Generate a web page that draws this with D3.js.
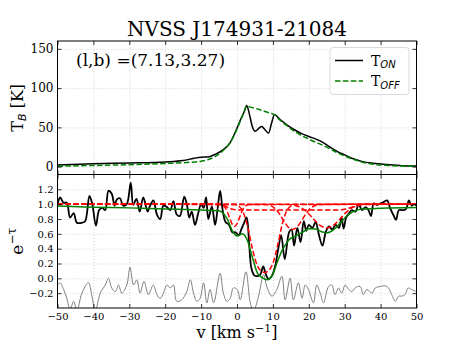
<!DOCTYPE html>
<html>
<head>
<meta charset="UTF-8">
<script src="https://d3js.org/d3.v7.min.js"></script>
<style>
  body { margin: 0; background: #fff; }
  text { font-family: "DejaVu Serif", serif; fill: #000; }
  .grid line { stroke: #c8c8c8; stroke-dasharray: 1,2; stroke-width: 0.8; }
  .grid path { display: none; }
  .ax path { display: none; }
  .ax line { stroke: #000; stroke-width: 0.8; }
</style>
</head>
<body>
<svg id="chart" width="463" height="347"></svg>
<script>
// ---- data ----
const vTicks = [-50, -40, -30, -20, -10, 0, 10, 20, 30, 40, 50];
const tbTicks = [0, 50, 100, 150];
const tauTicks = [-0.2, 0.0, 0.2, 0.4, 0.6, 0.8, 1.0, 1.2];

// emission spectra [v, T_B]
const tOn = [[-50,2.1],[-40,3.8],[-30,4.7],[-20,6.0],[-15,7.7],[-12,10.6],[-10,12],[-8,12.4],[-6,15.8],[-4,21],[-2,30],[0,49],
  [1,60],[2,70],[2.7,78],[3.5,66],[4.2,52],[5.1,45],[6,48.5],[6.9,51],[7.8,47],[8.8,42.7],[9.6,55],[10.45,66],[12,60],[14,53],
  [16,47],[18,42],[20,38.3],[22,35],[24,30.7],[26,24.7],[28,19.2],[30,15],[32,10.7],[35,6.4],[38,4.3],[42,2.6],[46,1.3],[50,0.9]];
const tOff = [[-50,0.5],[-40,1.5],[-30,2.5],[-20,4],[-15,5],[-10,7],[-8,9],[-6,13],[-4,20],[-2,30],[0,48],[1,59],[2,70],[2.7,77],
  [4,75.5],[6,73],[8,70],[10,67],[10.5,66],[12,59],[14,52],[16,45],[18,39.5],[20,35],[22,31],[24,27],[26,22.5],[28,17.5],
  [30,13.5],[32,10],[35,5.5],[38,3],[42,1.5],[46,0.7],[50,0.3]];

// absorption spectrum e^-tau [v, value]
const absData = [[-50,1.0],[-49.25,1.09],[-48.3,1.02],[-47.4,1.02],[-46.5,0.82],[-45.5,0.88],[-44.6,0.75],[-43.2,0.75],[-42.3,0.77],
  [-41.1,1.11],[-40.3,1.0],[-39.3,0.71],[-38.4,0.92],[-37.5,0.95],[-36.7,0.92],[-35.8,1.18],[-34.9,1.14],[-34.1,0.98],[-33.5,1.06],
  [-32.6,1.08],[-31.7,0.98],[-30.7,1.0],[-29.6,1.29],[-28.9,0.99],[-28,1.07],[-27.1,0.90],[-26.1,1.09],[-24.9,0.90],[-24.3,0.97],
  [-23.3,1.05],[-22.3,0.86],[-21.4,0.80],[-20.5,0.98],[-19.5,0.96],[-18.6,0.92],[-17.7,1.04],[-16.8,0.86],[-15.9,0.84],[-14.7,1.10],
  [-13.9,0.98],[-13.3,0.82],[-12.6,0.90],[-11.7,0.72],[-10.8,0.88],[-10,1.0],[-9.3,0.95],[-8.6,1.09],[-8,0.80],[-7,0.97],[-6.1,0.72],
  [-5.4,0.94],[-4.7,1.18],[-4,0.92],[-3.2,0.76],[-2.2,0.72],[-1.3,0.62],[-0.4,0.62],[0.5,0.58],[1.2,0.66],[2.0,0.75],[2.7,0.82],
  [3.4,0.45],[4.0,0.14],[4.8,0.04],[5.7,0.03],[6.5,0.05],[7.3,0.16],[8.0,0.06],[8.8,-0.01],[9.7,0.03],[10.6,0.16],[11.5,0.40],
  [12.3,0.58],[13.3,0.26],[14.5,0.62],[15.2,0.66],[15.9,0.44],[16.8,0.68],[17.7,0.49],[18.6,0.77],[19.3,0.64],[20.0,0.72],[21,0.68],
  [21.9,0.76],[22.8,0.59],[23.8,0.44],[24.7,0.62],[25.6,0.70],[26.5,0.66],[27.5,0.72],[28.4,0.68],[29.1,0.82],[29.7,0.67],[30.4,0.82],
  [31.1,0.87],[32,0.92],[33,0.90],[33.9,1.0],[34.8,0.92],[35.8,0.96],[36.6,0.92],[37.3,0.84],[38.1,1.01],[39,0.99],[40,1.01],
  [40.9,1.03],[41.8,1.05],[42.7,0.94],[43.7,0.84],[44.3,0.79],[45.1,0.92],[46,0.92],[47,0.93],[47.9,1.05],[48.6,0.98],[49.3,1.0],[50,0.98]];

// total fit
const fitData = [[-50,0.975],[-40,0.96],[-30,0.95],[-20,0.935],[-10,0.92],[-5.2,0.91],[-4.1,0.89],[-2.7,0.80],[-1.3,0.64],[0.1,0.57],
  [1.5,0.60],[2.9,0.51],[4.3,0.28],[5.7,0.07],[7.1,0.005],[8.5,-0.02],[9.9,0.05],[11.3,0.23],[12.7,0.39],[13.6,0.46],[14.5,0.52],
  [16.3,0.57],[18.2,0.62],[20,0.67],[21.9,0.665],[23.8,0.625],[25.2,0.615],[27.5,0.68],[29,0.76],[30.4,0.83],[32,0.89],[33.5,0.92],
  [35,0.935],[40,0.945],[50,0.955]];

// individual components
const compA = [[-50,1],[-5,1],[-3.5,0.98],[-2,0.94],[-0.5,0.925],[2,0.92],[10,0.92],[20,0.92],[28,0.92],[30,0.93],[32,0.96],[34,0.99],[35.5,1],[50,1]];
const compB = [[-50,1],[-4.7,0.997],[-3.95,0.984],[-3.3,0.953],[-2.65,0.89],[-2.0,0.805],[-1.35,0.73],[-0.7,0.70],[-0.05,0.73],
  [0.6,0.805],[1.25,0.89],[1.9,0.953],[2.55,0.984],[3.3,0.997],[50,1]];
const compC = [[-50,1],[-0.7,0.995],[0.5,0.972],[1.7,0.895],[2.9,0.71],[4.1,0.44],[5.3,0.216],[6.5,0.108],[7.7,0.08],[8.9,0.108],
  [10.1,0.216],[11.3,0.44],[12.5,0.71],[13.7,0.895],[14.9,0.972],[16.1,0.995],[50,1]];
const compD = [[-50,1],[8,0.995],[9.25,0.982],[10.5,0.945],[11.75,0.874],[13,0.777],[14.25,0.693],[15.5,0.66],[16.75,0.693],
  [18,0.777],[19.25,0.874],[20.5,0.945],[21.75,0.982],[23,0.995],[50,1]];
const compE = [[-50,1],[14.5,0.996],[16.25,0.983],[18,0.949],[19.75,0.882],[21.5,0.791],[23.25,0.711],[25,0.68],[26.75,0.711],
  [28.5,0.791],[30.25,0.882],[32,0.949],[33.75,0.983],[35.5,0.996],[50,1]];

// residuals (shown offset)
const resid = [[-50,-0.09],[-49.3,-0.06],[-48.3,-0.15],[-47.4,-0.27],[-46.5,-0.42],[-45.5,-0.31],[-44.6,-0.44],[-43.2,-0.2],
  [-41.4,-0.06],[-40.4,-0.24],[-39.5,-0.44],[-38.1,-0.2],[-36.7,-0.09],[-35.8,0.0],[-34.9,-0.13],[-33.9,-0.18],[-33,-0.09],
  [-32.1,-0.2],[-30.7,-0.09],[-29.8,0.15],[-28.8,-0.09],[-27.9,-0.02],[-27,-0.2],[-25.9,-0.04],[-24.7,-0.22],[-23.3,-0.09],
  [-22.3,-0.22],[-21.4,-0.27],[-20.5,-0.2],[-19.5,-0.09],[-18.6,-0.13],[-17.7,-0.09],[-16.8,-0.31],[-15.4,-0.29],[-14,-0.18],
  [-13,-0.02],[-12.1,-0.2],[-11.2,-0.31],[-10.3,-0.27],[-9.3,-0.06],[-8.4,-0.33],[-7.5,-0.15],[-6.5,-0.33],[-4.7,0.07],[-3.8,-0.2],
  [-2.8,-0.31],[-1.9,-0.27],[-1,-0.13],[0.1,-0.15],[0.9,-0.29],[2.5,0.09],[3.7,-0.33],[4.6,-0.44],[6,-0.24],[7.4,0.05],[8.3,-0.11],
  [9.7,-0.24],[11.1,-0.15],[12.5,0.03],[13.4,-0.29],[14.8,0.0],[15.7,-0.29],[17.1,-0.06],[18.1,-0.27],[19,-0.09],[19.9,-0.15],
  [21.3,-0.33],[22.2,-0.09],[23.2,-0.2],[24.1,-0.33],[25.5,-0.11],[26.4,-0.09],[27.3,-0.22],[28.3,-0.13],[29.2,-0.2],[30.1,-0.09],
  [31.1,-0.15],[32,-0.18],[32.9,-0.13],[34.3,-0.11],[35.2,-0.22],[36.2,-0.15],[37.6,-0.2],[38.5,-0.13],[39.9,-0.11],[41.3,-0.1],
  [42.2,-0.13],[43.1,-0.22],[44.1,-0.31],[45,-0.24],[45.9,-0.24],[46.8,-0.22],[47.7,-0.13],[48.6,-0.15],[50,-0.18]];

// ---- layout ----
const L = 57.5, R = 416.5, T1 = 41, B1 = 174.5, B2 = 308;
const svg = d3.select("#chart");

const x = d3.scaleLinear().domain([-50, 50]).range([L, R]);
const yTop = d3.scaleLinear().domain([-10, 160]).range([B1, T1]);
const yBot = d3.scaleLinear().domain([-0.4, 1.4]).range([B2, B1]);

svg.append("text").attr("x", 237).attr("y", 36).attr("text-anchor", "middle")
  .style("font-size", "20px").text("NVSS J174931-21084");

const defs = svg.append("defs");
defs.append("clipPath").attr("id", "clipTop").append("rect")
  .attr("x", L).attr("y", T1).attr("width", R - L).attr("height", B1 - T1);
defs.append("clipPath").attr("id", "clipBot").append("rect")
  .attr("x", L).attr("y", B1).attr("width", R - L).attr("height", B2 - B1);

function panel(y, top, bottom, yt, fmt, fs, clip) {
  const g = svg.append("g");
  // grid
  g.append("g").attr("class", "grid").attr("transform", `translate(0,${bottom})`)
    .call(d3.axisBottom(x).tickValues(vTicks.slice(1, -1)).tickSize(-(bottom - top)).tickFormat(""));
  g.append("g").attr("class", "grid").attr("transform", `translate(${L},0)`)
    .call(d3.axisLeft(y).tickValues(yt).tickSize(-(R - L)).tickFormat(""));
  const plot = g.append("g").attr("clip-path", `url(#${clip})`);
  // axes with inward ticks
  const ax = g.append("g");
  ax.append("g").attr("class", "ax").attr("transform", `translate(${L},0)`)
    .call(d3.axisLeft(y).tickValues(yt).tickSizeInner(-4).tickSizeOuter(0).tickPadding(4).tickFormat(fmt))
    .selectAll("text").style("font-size", fs).style("font-family", "DejaVu Serif");
  ax.append("g").attr("class", "ax").attr("transform", `translate(${R},0)`)
    .call(d3.axisRight(y).tickValues(yt).tickSizeInner(-4).tickSizeOuter(0).tickFormat(""));
  ax.append("g").attr("class", "ax").attr("transform", `translate(0,${top})`)
    .call(d3.axisTop(x).tickValues(vTicks).tickSizeInner(-4).tickSizeOuter(0).tickFormat(""));
  const bx = ax.append("g").attr("class", "ax").attr("transform", `translate(0,${bottom})`);
  g.append("rect").attr("x", L).attr("y", top).attr("width", R - L).attr("height", bottom - top)
    .attr("fill", "none").attr("stroke", "#000").attr("stroke-width", 1);
  return { plot, bx };
}

// ---- top panel ----
const pTop = panel(yTop, T1, B1, tbTicks, d3.format("d"), "12px", "clipTop");
pTop.bx.call(d3.axisBottom(x).tickValues(vTicks).tickSizeInner(-4).tickSizeOuter(0).tickFormat(""));

const lineTop = d3.line().x(d => x(d[0])).y(d => yTop(d[1])).curve(d3.curveMonotoneX);
pTop.plot.append("path").datum(tOn).attr("d", lineTop)
  .attr("fill", "none").attr("stroke", "#000").attr("stroke-width", 1.5);
pTop.plot.append("path").datum(tOff).attr("d", lineTop)
  .attr("fill", "none").attr("stroke", "#008000").attr("stroke-width", 1.5).attr("stroke-dasharray", "5.5,2.4");

svg.append("text").attr("x", 76).attr("y", 66).style("font-size", "17px").text("(l,b) =(7.13,3.27)");

// legend
const lg = svg.append("g");
lg.append("rect").attr("x", 330).attr("y", 47.5).attr("width", 79).attr("height", 47).attr("rx", 3)
  .attr("fill", "#fff").attr("fill-opacity", 0.8).attr("stroke", "#d0d0d0").attr("stroke-width", 0.8);
lg.append("line").attr("x1", 335).attr("x2", 363).attr("y1", 60.5).attr("y2", 60.5)
  .attr("stroke", "#000").attr("stroke-width", 1.5);
lg.append("line").attr("x1", 335).attr("x2", 363).attr("y1", 81).attr("y2", 81)
  .attr("stroke", "#008000").attr("stroke-width", 1.5).attr("stroke-dasharray", "5.5,2.4");
const lt1 = lg.append("text").attr("x", 371).attr("y", 65.5).style("font-size", "14px");
lt1.append("tspan").text("T");
lt1.append("tspan").attr("dy", 2.5).style("font-size", "10px").style("font-family", "DejaVu Sans")
  .style("font-style", "italic").text("ON");
const lt2 = lg.append("text").attr("x", 371).attr("y", 86).style("font-size", "14px");
lt2.append("tspan").text("T");
lt2.append("tspan").attr("dy", 2.5).style("font-size", "10px").style("font-family", "DejaVu Sans")
  .style("font-style", "italic").text("OFF");

// y label top
const yl1 = svg.append("text").attr("transform", `translate(23,${(T1 + B1) / 2}) rotate(-90)`)
  .attr("text-anchor", "middle").style("font-size", "16px");
yl1.append("tspan").text("T");
yl1.append("tspan").attr("dy", 3).style("font-size", "11px").style("font-family", "DejaVu Sans")
  .style("font-style", "italic").text("B");
yl1.append("tspan").attr("dy", -3).text(" [K]");

// ---- bottom panel ----
const pBot = panel(yBot, B1, B2, tauTicks, d3.format(".1f"), "10px", "clipBot");
pBot.bx.call(d3.axisBottom(x).tickValues(vTicks).tickSizeInner(-4).tickSizeOuter(0).tickPadding(5).tickFormat(d3.format("d")))
  .selectAll("text").style("font-size", "10px").style("font-family", "DejaVu Serif");

const lineBot = d3.line().x(d => x(d[0])).y(d => yBot(d[1])).curve(d3.curveCatmullRom.alpha(0.5));
const lineComp = d3.line().x(d => x(d[0])).y(d => yBot(d[1])).curve(d3.curveMonotoneX);
pBot.plot.append("path").datum(resid).attr("d", lineBot)
  .attr("fill", "none").attr("stroke", "#808080").attr("stroke-width", 1);
pBot.plot.append("path").datum(absData).attr("d", lineBot)
  .attr("fill", "none").attr("stroke", "#000").attr("stroke-width", 1.8);
[compA, compB, compC, compD, compE].forEach(c => {
  pBot.plot.append("path").datum(c).attr("d", lineComp)
    .attr("fill", "none").attr("stroke", "#ff0000").attr("stroke-width", 1.5).attr("stroke-dasharray", "5.5,2.4");
});
pBot.plot.append("path").datum(fitData).attr("d", lineComp)
  .attr("fill", "none").attr("stroke", "#008000").attr("stroke-width", 1.5);

// y label bottom
const yl2 = svg.append("text").attr("transform", `translate(23,${(B1 + B2) / 2}) rotate(-90)`)
  .attr("text-anchor", "middle").style("font-size", "17px");
yl2.append("tspan").text("e");
yl2.append("tspan").attr("dy", -7).style("font-size", "12px").text("−τ");

// x label
const xl = svg.append("text").attr("x", (L + R) / 2).attr("y", 338).attr("text-anchor", "middle").style("font-size", "16px");
xl.append("tspan").text("v [km s");
xl.append("tspan").attr("dy", -6).style("font-size", "11px").text("−1");
xl.append("tspan").attr("dy", 6).text("]");
</script>
</body>
</html>
